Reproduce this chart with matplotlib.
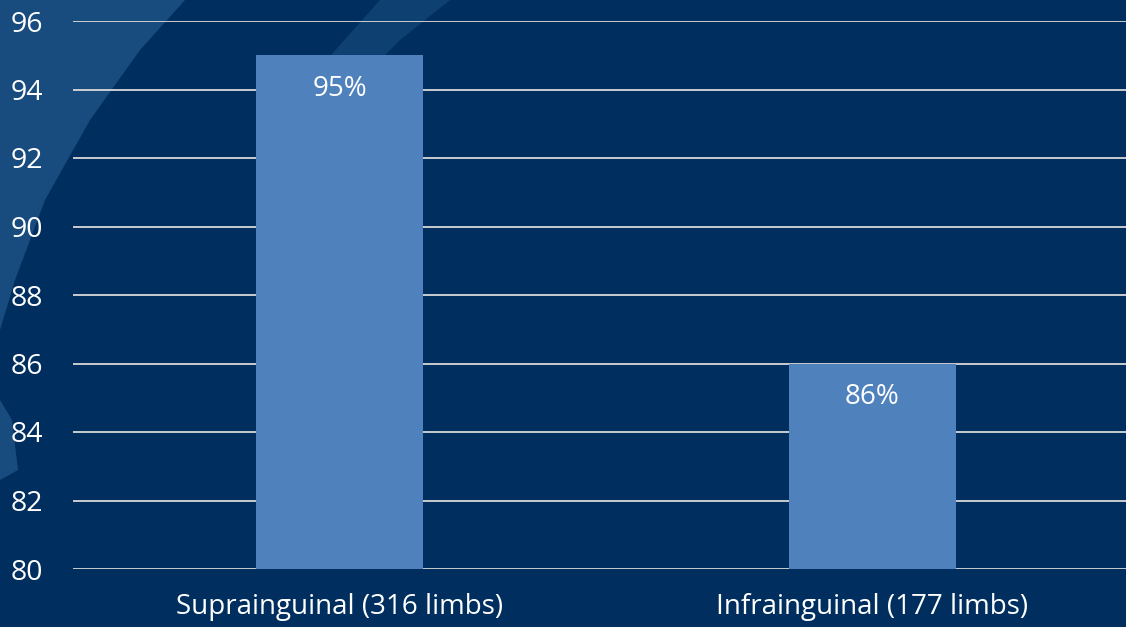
import matplotlib
matplotlib.use("Agg")
import matplotlib.pyplot as plt
import matplotlib.transforms as mtransforms
from matplotlib.patches import Polygon

categories = ["Suprainguinal (316 limbs)", "Infrainguinal (177 limbs)"]
values = [95, 86]
value_labels = ["95%", "86%"]
yticks = [80, 82, 84, 86, 88, 90, 92, 94, 96]

BG = "#002F5F"
BAR = "#4F81BD"
GRID = "#D9D9D9"

plt.rcParams['font.family'] = ['Open Sans', 'DejaVu Sans']

fig = plt.figure(figsize=(11.26, 6.27), dpi=100, facecolor=BG)
W, H = 1126, 627

def fpts(pts):
    return [(px / W, 1 - py / H) for px, py in pts]

# decorative brush strokes in the background
stroke = Polygon(fpts([(0, 0), (185, 0), (140, 50), (90, 120), (45, 200), (15, 280), (0, 330)]),
                 closed=True, transform=fig.transFigure, facecolor="#2B6094", alpha=0.6,
                 edgecolor="none", zorder=0)
stroke2 = Polygon(fpts([(0, 400), (12, 420), (18, 470), (0, 480)]),
                  closed=True, transform=fig.transFigure, facecolor="#2B6094", alpha=0.6,
                  edgecolor="none", zorder=0)
stroke3 = Polygon(fpts([(380, 0), (450, 0), (400, 40), (330, 110), (300, 90)]),
                  closed=True, transform=fig.transFigure, facecolor="#2B6094", alpha=0.35,
                  edgecolor="none", zorder=0)
for p in (stroke, stroke2, stroke3):
    fig.patches.append(p)

left, right = 73 / W, 1139 / W
bottom, top = 1 - 569 / H, 1 - 21 / H
ax = fig.add_axes([left, bottom, right - left, top - bottom])
ax.set_zorder(2)
ax.set_facecolor("none")

x = list(range(len(categories)))
bars = ax.bar(x, values, width=0.313, color=BAR, zorder=3)
ax.set_xlim(-0.5, 1.5)
ax.set_ylim(80, 96)
ax.set_yticks(yticks)
ax.set_yticklabels([str(t) for t in yticks])
ax.set_xticks(x)
ax.set_xticklabels(categories)
ax.grid(axis='y', color=GRID, linewidth=1.3, zorder=1)
ax.set_axisbelow(True)
for s in ax.spines.values():
    s.set_visible(False)
ax.tick_params(axis='both', length=0, colors='white', labelsize=20.5)
ax.tick_params(axis='x', pad=17, labelsize=20)
trans = mtransforms.blended_transform_factory(fig.transFigure, ax.transData)
for lab in ax.get_yticklabels():
    lab.set_horizontalalignment('left')
    lab.set_transform(trans)
    lab.set_x(11 / W)

for b, lbl in zip(bars, value_labels):
    ax.annotate(lbl, (b.get_x() + b.get_width() / 2, b.get_height()),
                xytext=(0, -34), textcoords='offset pixels',
                ha='center', va='center', color='white', fontsize=20, zorder=4)

fig.savefig("out.png", dpi=100, facecolor=BG)
